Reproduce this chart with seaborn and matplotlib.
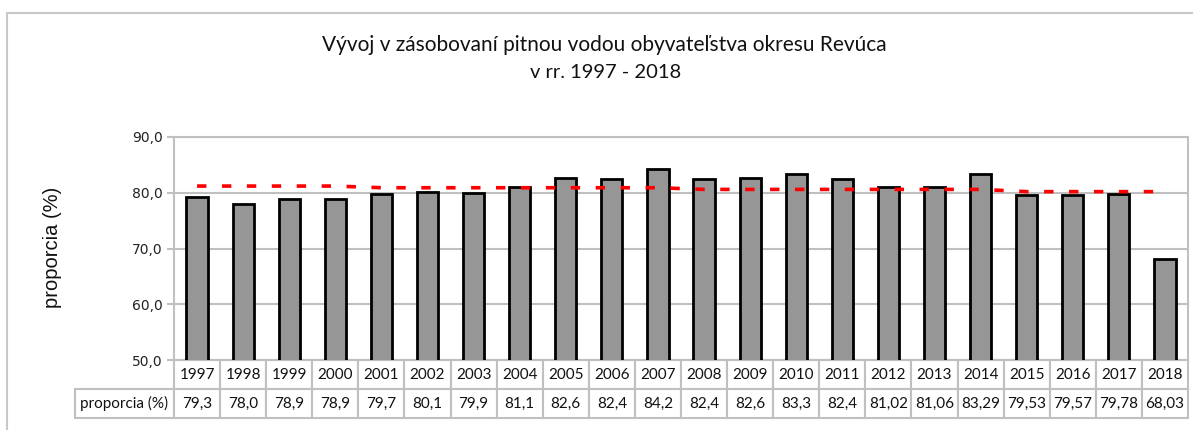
import numpy as np
import matplotlib
matplotlib.use("Agg")
import matplotlib.pyplot as plt
import seaborn as sns
from matplotlib.patches import Rectangle

# Data
years = [str(y) for y in range(1997, 2019)]
proporcia = [79.3, 78.0, 78.9, 78.9, 79.7, 80.1, 79.9, 81.1, 82.6, 82.4, 84.2,
             82.4, 82.6, 83.3, 82.4, 81.02, 81.06, 83.29, 79.53, 79.57, 79.78, 68.03]
table_labels = ["79,3", "78,0", "78,9", "78,9", "79,7", "80,1", "79,9", "81,1", "82,6",
                "82,4", "84,2", "82,4", "82,6", "83,3", "82,4", "81,02", "81,06",
                "83,29", "79,53", "79,57", "79,78", "68,03"]
# red dashed reference line
reference = [81.2, 81.2, 81.2, 81.2, 80.9, 80.9, 80.9, 80.9, 80.9, 80.9, 80.9,
             80.6, 80.6, 80.6, 80.6, 80.6, 80.6, 80.6, 80.2, 80.2, 80.2, 80.2]
yticks = [50, 60, 70, 80, 90]
ytick_labels = ["50,0", "60,0", "70,0", "80,0", "90,0"]

sns.set_style("white")
W, H = 1193, 430
grid_col = "#c0c0c0"

fig = plt.figure(figsize=(W / 100, H / 100), dpi=100)
left, right, top, bottom = 174, 1188, 137, 360
ax = fig.add_axes([left / W, 1 - bottom / H, (right - left) / W, (bottom - top) / H])

sns.barplot(x=years, y=proporcia, color="#969696", saturation=1, edgecolor="black",
            linewidth=2, width=0.46, ax=ax, zorder=3)
sns.lineplot(x=np.arange(len(years)), y=reference, color="#ff0000", linewidth=2.6,
             linestyle=(0, (2.6, 4.3)), dash_capstyle="butt", ax=ax, zorder=4)

ax.set_ylim(50, 90)
ax.set_xlim(-0.5, len(years) - 0.5)
ax.set_yticks(yticks)
ax.set_yticklabels(ytick_labels, fontsize=10, color="#222222", family="DejaVu Sans")
ax.set_xticks([])
ax.set_xlabel("")
ax.set_ylabel("")
ax.yaxis.grid(True, color=grid_col, linewidth=1.5, zorder=0)
ax.set_axisbelow(True)
ax.tick_params(axis="y", length=5, width=1.5, color=grid_col, pad=3, left=True)
for s in ax.spines.values():
    s.set_color(grid_col)
    s.set_linewidth(1.5)

# data table under the axis
x0 = (75 - left) / (right - left)
tw = (right - 75) / (right - left)
th = (418 - bottom) / (bottom - top)
colw = [99] + [(right - left) / len(years)] * len(years)
tbl = ax.table(cellText=[[""] + years, ["proporcia (%)"] + table_labels],
               colWidths=[c / sum(colw) for c in colw], cellLoc="center",
               bbox=[x0, -th, tw, th])
tbl.auto_set_font_size(False)
tbl.set_fontsize(11)
for (r, c), cell in tbl.get_celld().items():
    cell.set_edgecolor(grid_col)
    cell.set_linewidth(1.5)
    cell.get_text().set_family("Lato")
    cell.get_text().set_color("#111111")
tbl[0, 0].visible_edges = "open"

fig.text(604 / W, 1 - 45 / H, "Vývoj v zásobovaní pitnou vodou obyvateľstva okresu Revúca",
         ha="center", va="center", fontsize=15, family="Lato", color="#111111")
fig.text(606 / W, 1 - 73 / H, "v rr. 1997 - 2018",
         ha="center", va="center", fontsize=14.5, family="Lato", color="#111111")
fig.text(53 / W, 1 - 247 / H, "proporcia (%)", rotation=90, ha="center", va="center",
         fontsize=14.5, family="Liberation Sans", color="#111111")

fig.patches.append(Rectangle((7 / W, -0.1), 1.2, 1.1 - 13 / H, transform=fig.transFigure,
                             fill=False, edgecolor="#c8c8c8", linewidth=1.5))

fig.savefig("out.png", dpi=100)
